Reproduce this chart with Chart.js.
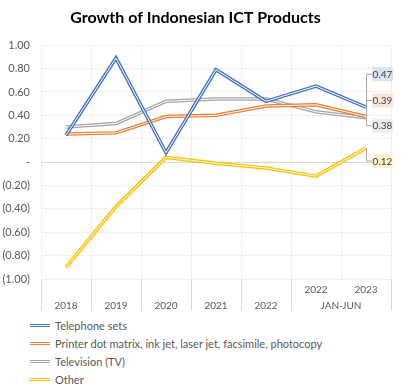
<!DOCTYPE html>
<html>
<head>
<meta charset="utf-8">
<script src="https://cdn.jsdelivr.net/npm/chart.js@4.4.0/dist/chart.umd.min.js"></script>
<style>
  body { margin: 0; background: #fff; font-family: Lato, sans-serif; }
  #wrap { position: relative; width: 404px; height: 312px; }
  #legend { padding-left: 30px; margin-top: 4px; }
  .item { height: 18px; display: flex; align-items: center; font-size: 11px; color: #595959; }
  .swatch { width: 20px; height: 1px; border-top: 1.5px solid; border-bottom: 1.5px solid; margin-right: 5px; }
</style>
</head>
<body>
<div id="wrap"><canvas id="mycanvas"></canvas></div>
<div id="legend"></div>
<script>
var categories = ["2018", "2019", "2020", "2021", "2022", "2022", "2023"];
var lowerLevel = ["2018", "2019", "2020", "2021", "2022", "JAN-JUN", "JAN-JUN"];
var seriesNames = ["Telephone sets", "Printer dot matrix, ink jet, laser jet, facsimile, photocopy", "Television (TV)", "Other"];
var telephone = [0.23, 0.89, 0.08, 0.79, 0.52, 0.65, 0.47];
var printer = [0.24, 0.25, 0.39, 0.40, 0.48, 0.49, 0.39];
var television = [0.30, 0.33, 0.52, 0.54, 0.54, 0.43, 0.38];
var other = [-0.90, -0.38, 0.04, -0.01, -0.05, -0.12, 0.12];
var yTicks = [1, 0.8, 0.6, 0.4, 0.2, 0, -0.2, -0.4, -0.6, -0.8, -1];

var colors = ["#4472C4", "#ED7D31", "#A5A5A5", "#FFC000"];
var labelBg = ["#DAE3F3", "#FBE5D6", "#EDEDED", "#FFF2CC"];
var labelShift = [-33, -16, 8, 13];

// two-row category labels: single years sit in the lower row
var xLabels = categories.map(function(c, i) {
  return lowerLevel[i] === c ? ["", c] : [c, ""];
});

function fmt(v) {
  if (Math.abs(v) < 1e-9) return "-";
  return v < 0 ? "(" + Math.abs(v).toFixed(2) + ")" : v.toFixed(2);
}

var doubleLine = {
  id: "doubleLine",
  afterDatasetDraw: function(chart, args) {
    var ctx = chart.ctx;
    ctx.save();
    ctx.beginPath();
    args.meta.dataset.path(ctx);
    ctx.strokeStyle = "#fff";
    ctx.lineWidth = 1;
    ctx.stroke();
    ctx.restore();
  }
};

var extras = {
  id: "extras",
  afterDraw: function(chart) {
    var ctx = chart.ctx;
    var x = chart.scales.x;
    // JAN-JUN group label
    ctx.save();
    ctx.font = "10px Lato";
    ctx.fillStyle = "#595959";
    ctx.textAlign = "center";
    ctx.textBaseline = "middle";
    var groupX = (x.getPixelForValue(5) + x.getPixelForValue(6)) / 2;
    ctx.fillText("JAN-JUN", groupX, x.top + 3 + 16 + 8);
    // end labels with leader lines
    chart.data.datasets.forEach(function(ds, i) {
      var meta = chart.getDatasetMeta(i);
      var pt = meta.data[meta.data.length - 1];
      var ly = pt.y + labelShift[i];
      ctx.strokeStyle = "#A6A6A6";
      ctx.lineWidth = 1;
      ctx.beginPath();
      ctx.moveTo(pt.x + 0.5, pt.y);
      ctx.lineTo(pt.x + 0.5, ly);
      ctx.lineTo(pt.x + 6, ly);
      ctx.stroke();
      var txt = ds.data[ds.data.length - 1].toFixed(2);
      ctx.fillStyle = labelBg[i];
      ctx.fillRect(pt.x + 6, ly - 7, 21, 14);
      ctx.fillStyle = "#404040";
      ctx.fillText(txt, pt.x + 16.5, ly + 0.5);
    });
    ctx.restore();
  }
};

var chartdata = {
  labels: xLabels,
  datasets: [telephone, printer, television, other].map(function(d, i) {
    return {
      label: seriesNames[i],
      data: d,
      fill: false,
      lineTension: 0,
      borderColor: colors[i],
      backgroundColor: colors[i],
      borderWidth: 3.5,
      pointRadius: 0
    };
  })
};

var ctx = document.getElementById("mycanvas");
var LineGraph = new Chart(ctx, {
  type: "line",
  data: chartdata,
  plugins: [doubleLine, extras],
  options: {
    responsive: true,
    maintainAspectRatio: false,
    animation: false,
    layout: { padding: { left: 0, right: 13, top: 0, bottom: 0 } },
    plugins: {
      legend: { display: false },
      tooltip: { enabled: false },
      title: {
        display: true,
        text: "Growth of Indonesian ICT Products",
        color: "#000",
        font: { family: "Lato", size: 16, weight: "bold" },
        padding: { top: 8, bottom: 18 }
      }
    },
    scales: {
      x: {
        offset: true,
        grid: {
          offset: true,
          color: "#F0F0F0",
          tickLength: 31,
          tickColor: function(c) { return c.index === 6 ? "rgba(0,0,0,0)" : "#D9D9D9"; }
        },
        border: { display: false },
        ticks: {
          color: "#595959",
          font: { family: "Lato", size: 10, lineHeight: 1.6 },
          padding: -28,
          maxRotation: 0,
          autoSkip: false
        },
        afterFit: function(s) { s.height = 33; }
      },
      y: {
        min: -1,
        max: 1,
        afterBuildTicks: function(s) { s.ticks = yTicks.map(function(v) { return { value: v }; }); },
        grid: {
          drawTicks: false,
          color: function(c) { return c.tick && c.tick.value === 0 ? "#D9D9D9" : "#F0F0F0"; }
        },
        border: { display: false },
        ticks: {
          color: "#595959",
          font: { family: "Lato", size: 11 },
          padding: 11,
          callback: function(v) { return fmt(v); }
        },
        afterFit: function(s) { s.width = 41; }
      }
    }
  }
});

var legend = document.getElementById("legend");
seriesNames.forEach(function(name, i) {
  var row = document.createElement("div");
  row.className = "item";
  row.innerHTML = '<span class="swatch" style="border-color:' + colors[i] + '"></span>' + name;
  legend.appendChild(row);
});
</script>
</body>
</html>
